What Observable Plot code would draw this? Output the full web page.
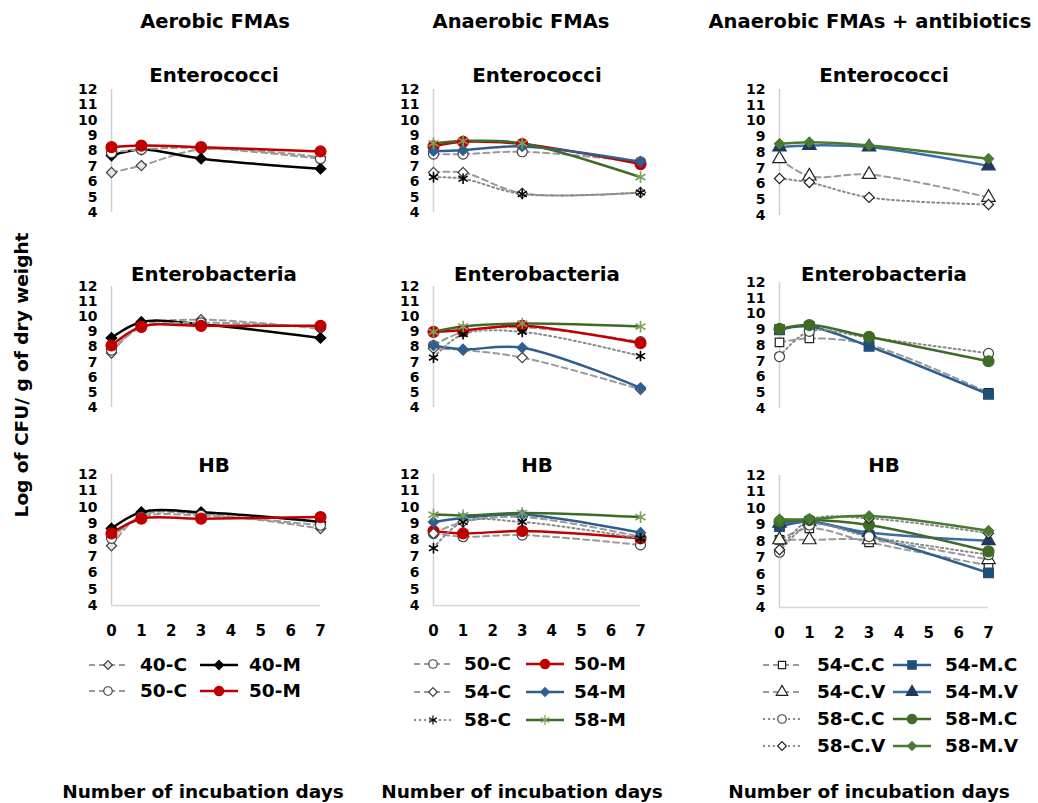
<!DOCTYPE html>
<html>
<head>
<meta charset="utf-8">
<script src="https://cdn.jsdelivr.net/npm/d3@7"></script>
<script src="https://cdn.jsdelivr.net/npm/@observablehq/plot@0.6"></script>
<style>
  body { margin: 0; background: #fff; }
  #root { position: relative; width: 1038px; height: 803px; background: #fff; overflow: hidden;
          font-family: "DejaVu Sans", Verdana, sans-serif; font-weight: bold; color: #000; }
  .lbl { position: absolute; white-space: nowrap; transform: translate(-50%, -50%); line-height: 1; }
  .panel { position: absolute; }
  .leg { position: absolute; white-space: nowrap; font-size: 18.5px; line-height: 1; transform: translateY(-50%); }
  .legsw { position: absolute; transform: translateY(-50%); }
</style>
</head>
<body>
<div id="root"></div>
<script>
// ---------------- data ----------------
const days = [0, 1, 3, 7];
const columnTitles = ["Aerobic FMAs", "Anaerobic FMAs", "Anaerobic FMAs + antibiotics"];
const rowTitles = ["Enterococci", "Enterobacteria", "HB"];
const yTicks = [4, 5, 6, 7, 8, 9, 10, 11, 12];
const xTicks = [0, 1, 2, 3, 4, 5, 6, 7];
const yTitle = "Log of CFU/ g of dry weight";
const xTitle = "Number of incubation days";

const aerobicSeries = ["40-C", "40-M", "50-C", "50-M"];
const aerobicEnterococci = [
  [6.6, 7.05, 8.1, 7.6],
  [7.7, 8.1, 7.5, 6.85],
  [7.9, 8.1, 8.2, 7.5],
  [8.25, 8.35, 8.25, 7.97]
];
const aerobicEnterobacteria = [
  [7.6, 9.4, 9.8, 9.2],
  [8.6, 9.65, 9.5, 8.6],
  [7.8, 9.3, 9.6, 9.3],
  [8.1, 9.35, 9.4, 9.4]
];
const aerobicHB = [
  [7.65, 9.5, 9.6, 8.7],
  [8.7, 9.7, 9.7, 9.1],
  [8.1, 9.4, 9.5, 8.9],
  [8.4, 9.3, 9.3, 9.4]
];

const anaerobicSeries = ["50-C", "50-M", "54-C", "54-M", "58-C", "58-M"];
const anaerobicEnterococci = [
  [7.8, 7.8, 7.95, 7.3],
  [8.3, 8.6, 8.45, 7.15],
  [6.6, 6.6, 5.25, 5.3],
  [8.0, 8.05, 8.3, 7.3],
  [6.3, 6.2, 5.2, 5.3],
  [8.5, 8.65, 8.5, 6.3]
];
const anaerobicEnterobacteria = [
  [8.1, 9.0, 9.3, 8.35],
  [9.0, 9.1, 9.4, 8.25],
  [7.9, 7.8, 7.3, 5.2],
  [8.1, 7.85, 7.95, 5.3],
  [7.3, 8.85, 9.0, 7.4],
  [9.0, 9.35, 9.55, 9.35]
];
const anaerobicHB = [
  [8.4, 8.2, 8.3, 7.7],
  [8.55, 8.4, 8.55, 8.1],
  [8.4, 9.1, 9.4, 8.2],
  [9.1, 9.35, 9.55, 8.45],
  [7.5, 9.1, 9.1, 8.1],
  [9.55, 9.5, 9.65, 9.4]
];

const antibioticSeries = ["54-C.C", "54-M.C", "54-C.V", "54-M.V", "58-C.C", "58-M.C", "58-C.V", "58-M.V"];
const antibioticEnterococciSeries = ["54-C.V", "54-M.V", "58-C.V", "58-M.V"];
const antibioticEnterococci = [
  [7.6, 6.5, 6.6, 5.15],
  [8.35, 8.45, 8.35, 7.15],
  [6.35, 6.1, 5.15, 4.7],
  [8.55, 8.65, 8.45, 7.6]
];
const antibioticEnterobacteriaSeries = ["54-C.C", "54-M.C", "58-C.C", "58-M.C"];
const antibioticEnterobacteria = [
  [8.2, 8.45, 8.05, 5.0],
  [9.0, 9.2, 7.95, 4.9],
  [7.3, 8.9, 8.5, 7.5],
  [9.05, 9.3, 8.55, 7.0]
];
const antibioticHB = [
  [8.1, 8.8, 7.95, 6.55],
  [8.9, 9.2, 8.35, 6.1],
  [8.1, 8.1, 8.1, 6.9],
  [9.1, 9.2, 8.55, 8.05],
  [7.35, 9.0, 8.3, 7.2],
  [9.2, 9.3, 9.0, 7.4],
  [7.5, 9.3, 9.4, 8.5],
  [9.35, 9.35, 9.55, 8.65]
];

// ---------------- styles ----------------
const GRAYD = "#9a9a9a", GRAYP = "#8a8a8a";
const RED = "#c00000", BLUE = "#2e5f8f", NAVY = "#1f3864", GREEN = "#3f6b27", LGREEN = "#78a35a";
const dash = "6,4", dot = "2,3";
const styles = {
  "40-C":  {line: GRAYD, w: 2, dash, symbol: "diamond2", r: 4.6, fill: "#e6e6e6", ms: "#404040"},
  "40-M":  {line: "#000", w: 2.5, dash: null, symbol: "diamond2", r: 4.8, fill: "#000", ms: "#000"},
  "50-C":  {line: GRAYD, w: 2, dash, symbol: "circle", r: 5, fill: "#fff", ms: "#404040"},
  "50-M":  {line: RED, w: 2.5, dash: null, symbol: "circle", r: 5.5, fill: RED, ms: RED},
  "54-C":  {line: GRAYD, w: 2, dash, symbol: "diamond2", r: 4.6, fill: "#fff", ms: "#404040"},
  "54-M":  {line: BLUE, w: 2.5, dash: null, symbol: "diamond2", r: 4.6, fill: BLUE, ms: BLUE},
  "58-C":  {line: GRAYP, w: 2, dash: dot, symbol: "asterisk", r: 5, fill: "none", ms: "#000"},
  "58-M":  {line: GREEN, w: 2.5, dash: null, symbol: "asterisk", r: 5.5, fill: "none", ms: LGREEN},
  "54-C.C": {line: GRAYD, w: 2, dash, symbol: "square", r: 4.8, fill: "#fff", ms: "#202020"},
  "54-M.C": {line: BLUE, w: 2.5, dash: null, symbol: "square", r: 5.5, fill: "#1f4e79", ms: "#1f4e79"},
  "54-C.V": {line: GRAYD, w: 2, dash, symbol: "triangle", r: 5, fill: "#fff", ms: "#202020"},
  "54-M.V": {line: "#3a6ea5", w: 2.5, dash: null, symbol: "triangle", r: 5, fill: NAVY, ms: NAVY},
  "58-C.C": {line: GRAYP, w: 2, dash: dot, symbol: "circle", r: 5, fill: "#fff", ms: "#404040"},
  "58-M.C": {line: GREEN, w: 2.5, dash: null, symbol: "circle", r: 5.5, fill: GREEN, ms: GREEN},
  "58-C.V": {line: GRAYP, w: 2, dash: dot, symbol: "diamond2", r: 4.6, fill: "#fff", ms: "#202020"},
  "58-M.V": {line: "#4a7a30", w: 2.5, dash: null, symbol: "diamond2", r: 4.6, fill: "#4a7a30", ms: "#4a7a30"}
};

// ---------------- layout ----------------
const X0 = [111, 433, 779];
const X7 = [320, 640, 988];
const Y12 = [[89, 89, 89], [286, 286, 282], [474, 474, 475]];
const Y4 = [[212, 212, 215], [407, 407, 408], [605, 605, 607]];
const colCenters = [214, 537, 884];
const rowTitleY = [76, 275, 466];

const panels = [
  [ {series: aerobicSeries, values: aerobicEnterococci},
    {series: anaerobicSeries, values: anaerobicEnterococci},
    {series: antibioticEnterococciSeries, values: antibioticEnterococci} ],
  [ {series: aerobicSeries, values: aerobicEnterobacteria},
    {series: anaerobicSeries, values: anaerobicEnterobacteria},
    {series: antibioticEnterobacteriaSeries, values: antibioticEnterobacteria} ],
  [ {series: aerobicSeries, values: aerobicHB},
    {series: anaerobicSeries, values: anaerobicHB},
    {series: antibioticSeries, values: antibioticHB} ]
];

const root = document.getElementById("root");
function label(text, x, y, size, rotate) {
  const d = document.createElement("div");
  d.className = "lbl";
  d.textContent = text;
  d.style.left = x + "px";
  d.style.top = y + "px";
  d.style.fontSize = size + "px";
  if (rotate) d.style.transform = "translate(-50%, -50%) rotate(-90deg)";
  root.appendChild(d);
}

columnTitles.forEach((t, c) => label(t, [215, 521, 870][c], 22, 19.5));
label(yTitle, 22, 375, 18.5, true);
[203, 522, 869].forEach(x => label(xTitle, x, 792, 18.5));

for (let r = 0; r < 3; r++) {
  for (let c = 0; c < 3; c++) {
    label(rowTitles[r], colCenters[c], rowTitleY[r], 19.8);
    const p = panels[r][c];
    const mL = 60, mR = 15, mT = 12, mB = r === 2 ? 40 : 8;
    const x0 = X0[c], x7 = X7[c], yt = Y12[r][c], yb = Y4[r][c];
    const marks = [
      Plot.ruleX([0], {stroke: "#cfcfcf", strokeWidth: 1.5}),
      Plot.axisY({ticks: yTicks, tickSize: 0, tickPadding: 14, label: null, tickFormat: d3.format("d"), fontSize: 14}),
    ];
    if (r === 2) {
      marks.push(Plot.ruleY([4], {stroke: "#d6d6d6", strokeWidth: 1.5}));
      marks.push(Plot.axisX({ticks: xTicks, tickSize: 0, tickPadding: 20, label: null, tickFormat: d3.format("d"), fontSize: 15}));
    }
    p.series.forEach((name, i) => {
      const s = styles[name];
      const pts = days.map((d, j) => ({day: d, v: p.values[i][j]}));
      marks.push(Plot.line(pts, {x: "day", y: "v", stroke: s.line, strokeWidth: s.w,
        strokeDasharray: s.dash || undefined, curve: "catmull-rom"}));
    });
    p.series.forEach((name, i) => {
      const s = styles[name];
      const pts = days.map((d, j) => ({day: d, v: p.values[i][j]}));
      marks.push(Plot.dot(pts, {x: "day", y: "v", symbol: s.symbol, r: s.r, fill: s.fill,
        stroke: s.ms, strokeWidth: s.symbol === "asterisk" ? 1.6 : 1.2}));
    });
    const chart = Plot.plot({
      width: (x7 - x0) + mL + mR,
      height: (yb - yt) + mT + mB,
      marginLeft: mL, marginRight: mR, marginTop: mT, marginBottom: mB,
      x: {domain: [0, 7], axis: null},
      y: {domain: [4, 12], axis: null},
      style: {fontFamily: '"DejaVu Sans", Verdana, sans-serif', fontSize: "15px", fontWeight: "bold",
              color: "#000", background: "transparent", overflow: "visible"},
      marks
    });
    const wrap = document.createElement("div");
    wrap.className = "panel";
    wrap.style.left = (x0 - mL) + "px";
    wrap.style.top = (yt - mT) + "px";
    wrap.appendChild(chart);
    root.appendChild(wrap);
  }
}

// ---------------- legends ----------------
const symbolTypes = {circle: d3.symbolCircle, diamond2: d3.symbolDiamond2, square: d3.symbolSquare,
                     triangle: d3.symbolTriangle, asterisk: d3.symbolAsterisk};
const legendLayout = [
  {series: aerobicSeries, lineX: [89, 200], textX: [140, 249], rows: [665, 691]},
  {series: anaerobicSeries, lineX: [414, 526], textX: [464, 574], rows: [664, 692, 720]},
  {series: antibioticSeries, lineX: [763, 893], textX: [817, 945], rows: [665, 692, 719, 746]}
];
legendLayout.forEach(L => {
  L.series.forEach((name, i) => {
    const col = i % 2, row = Math.floor(i / 2);
    const s = styles[name];
    const svg = d3.create("svg").attr("width", 40).attr("height", 20).attr("class", "legsw")
      .style("left", L.lineX[col] + "px").style("top", L.rows[row] + "px");
    svg.append("line").attr("x1", 0).attr("x2", 38).attr("y1", 10).attr("y2", 10)
      .attr("stroke", s.line).attr("stroke-width", s.w).attr("stroke-dasharray", s.dash || null);
    const size = Math.PI * (s.r * 0.85) ** 2;
    svg.append("path").attr("transform", "translate(19,10)")
      .attr("d", d3.symbol(symbolTypes[s.symbol], size)())
      .attr("fill", s.fill).attr("stroke", s.ms).attr("stroke-width", 1.2);
    root.appendChild(svg.node());
    const t = document.createElement("div");
    t.className = "leg";
    t.textContent = name;
    t.style.left = L.textX[col] + "px";
    t.style.top = L.rows[row] + "px";
    root.appendChild(t);
  });
});
</script>
</body>
</html>
